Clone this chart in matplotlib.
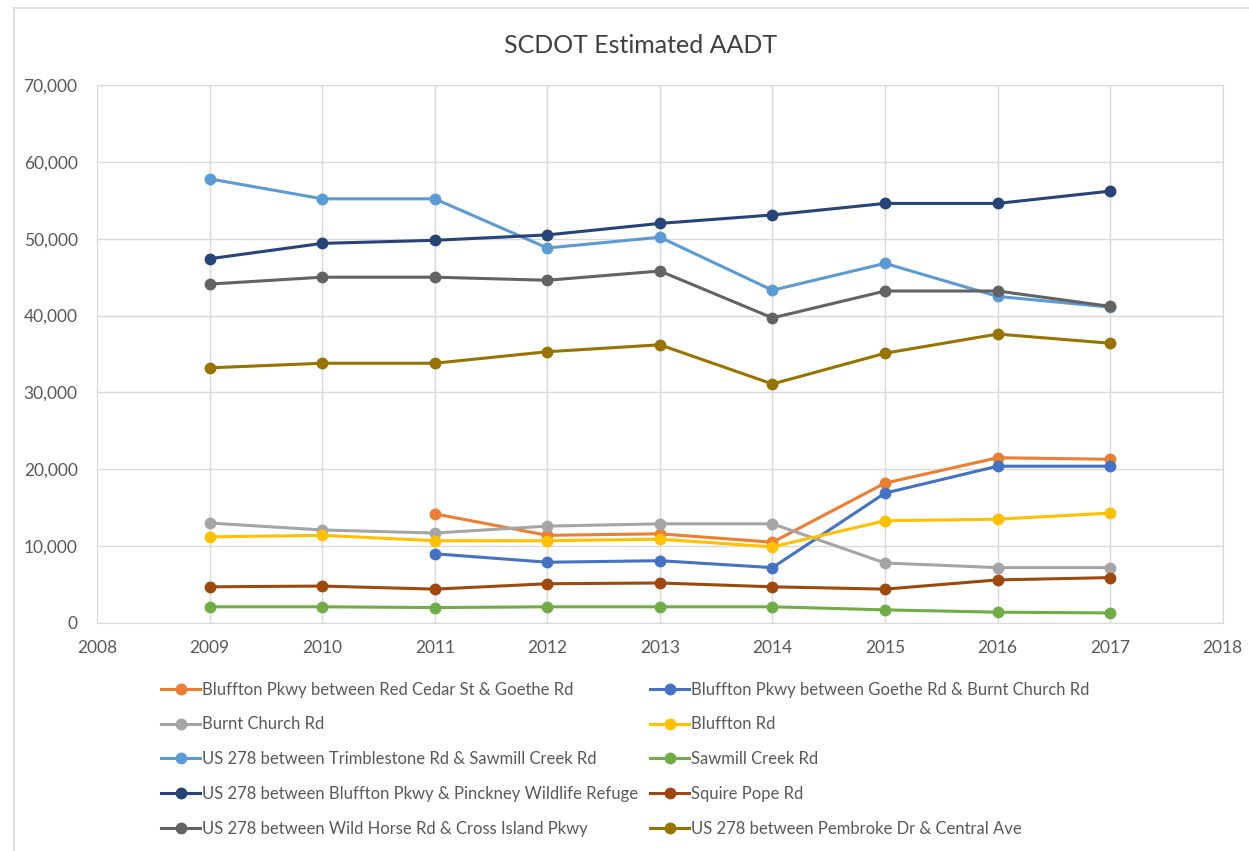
import matplotlib
matplotlib.use("Agg")
import matplotlib.pyplot as plt
from matplotlib.ticker import FuncFormatter, MultipleLocator
from matplotlib.lines import Line2D

plt.rcParams['font.family'] = ['Lato', 'DejaVu Sans']

years = [2009, 2010, 2011, 2012, 2013, 2014, 2015, 2016, 2017]

names = [
    "Bluffton Pkwy between Red Cedar St & Goethe Rd",
    "Bluffton Pkwy between Goethe Rd & Burnt Church Rd",
    "Burnt Church Rd",
    "Bluffton Rd",
    "US 278 between Trimblestone Rd & Sawmill Creek Rd",
    "Sawmill Creek Rd",
    "US 278 between Bluffton Pkwy & Pinckney Wildlife Refuge",
    "Squire Pope Rd",
    "US 278 between Wild Horse Rd & Cross Island Pkwy",
    "US 278 between Pembroke Dr & Central Ave",
]

red_cedar = [None, None, 14200, 11400, 11600, 10500, 18200, 21500, 21300]
goethe_burnt = [None, None, 9000, 7900, 8100, 7200, 16900, 20400, 20400]
burnt_church = [13000, 12100, 11700, 12600, 12900, 12900, 7800, 7200, 7200]
bluffton_rd = [11200, 11400, 10700, 10700, 10900, 9900, 13300, 13500, 14300]
us278_trimble = [57800, 55200, 55200, 48800, 50200, 43300, 46800, 42500, 41100]
sawmill = [2100, 2100, 2000, 2100, 2100, 2100, 1700, 1400, 1300]
us278_pinckney = [47400, 49400, 49800, 50500, 52000, 53100, 54600, 54600, 56200]
squire_pope = [4700, 4800, 4400, 5100, 5200, 4700, 4400, 5600, 5900]
us278_wildhorse = [44100, 45000, 45000, 44600, 45800, 39700, 43200, 43200, 41200]
us278_pembroke = [33200, 33800, 33800, 35300, 36200, 31100, 35100, 37600, 36400]

series = [red_cedar, goethe_burnt, burnt_church, bluffton_rd, us278_trimble,
          sawmill, us278_pinckney, squire_pope, us278_wildhorse, us278_pembroke]
colors = ["#ED7D31", "#4472C4", "#A5A5A5", "#FFC000", "#5B9BD5",
          "#70AD47", "#264478", "#9E480E", "#636363", "#997300"]

fig = plt.figure(figsize=(12.49, 8.51), dpi=100)
# outer chart frame (left and top edges visible)
fig.add_artist(Line2D([0.0112, 0.0112], [0.0, 0.9906], transform=fig.transFigure,
                      color="#d9d9d9", lw=1.2))
fig.add_artist(Line2D([0.0112, 1.0], [0.9906, 0.9906], transform=fig.transFigure,
                      color="#d9d9d9", lw=1.2))

ax = fig.add_axes([0.0777, 0.268, 0.9013, 0.632])

handles = {}
for name, vals, c in zip(names, series, colors):
    xs = [y for y, v in zip(years, vals) if v is not None]
    ys = [v for v in vals if v is not None]
    h, = ax.plot(xs, ys, color=c, lw=2.2, marker='o', markersize=7.5, label=name)
    handles[name] = h

ax.set_xlim(2008, 2018)
ax.set_ylim(0, 70000)
ax.xaxis.set_major_locator(MultipleLocator(1))
ax.yaxis.set_major_locator(MultipleLocator(10000))
ax.yaxis.set_major_formatter(FuncFormatter(lambda v, p: f"{int(v):,}"))
ax.grid(True, color="#d9d9d9", lw=1.0)
ax.set_axisbelow(True)
for s in ax.spines.values():
    s.set_color("#d9d9d9")
ax.tick_params(length=0, labelsize=12.5, colors="#595959")
ax.tick_params(axis='x', pad=12)
ax.tick_params(axis='y', pad=14)

fig.text(0.513, 0.947, "SCDOT Estimated AADT", ha='center', va='center',
         fontsize=18, color="#404040")

order = [0, 2, 4, 6, 8, 1, 3, 5, 7, 9]
hl = [handles[names[i]] for i in order]
ll = [names[i] for i in order]
leg = fig.legend(hl, ll, ncol=2, loc='upper left', bbox_to_anchor=(0.1236, 0.207),
                 frameon=False, fontsize=12,
                 handlelength=2.35, handletextpad=0.08, columnspacing=0.75,
                 labelspacing=1.13, borderaxespad=0)
for t in leg.get_texts():
    t.set_color("#595959")

fig.savefig("out.png", dpi=100)
